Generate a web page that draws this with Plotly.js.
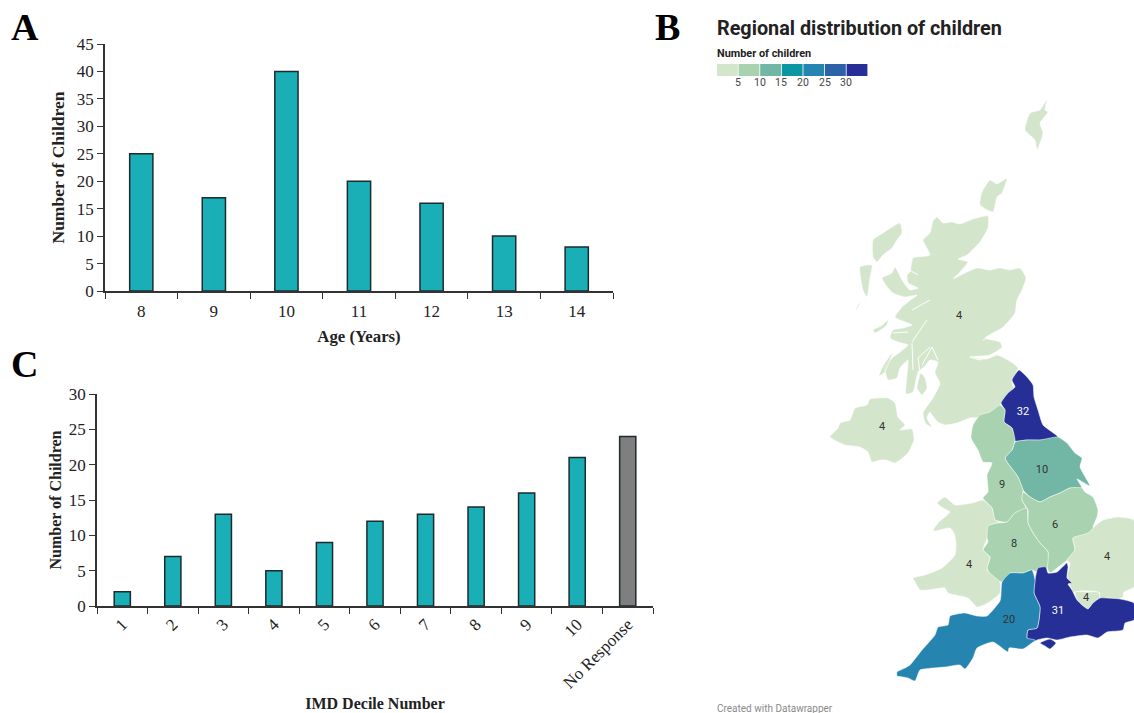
<!DOCTYPE html>
<html><head><meta charset="utf-8">
<script src="https://cdn.plot.ly/plotly-3.0.1.min.js"></script>
<style>html,body{margin:0;padding:0;background:#fff}#chart{width:1134px;height:713px}</style>
</head><body><div id="chart"></div>
<script>
// Panel A
const ageCategories = ['8','9','10','11','12','13','14'];
const ageCounts = [25,17,40,20,16,10,8];
// Panel C
const imdCategories = ['1','2','3','4','5','6','7','8','9','10','No Response'];
const imdCounts = [2,7,13,5,9,12,13,14,16,21,24];
// Panel B: children per region
const regionNames = ['Scotland','Northern Ireland','North East','Yorkshire and the Humber','North West','East Midlands','West Midlands','Wales','East of England','London','South East','South West'];
const regionValues = [4,4,32,10,9,6,8,4,4,4,31,20];
const labelX = [959,882,1023,1042,1002,1055,1014,969,1107,1086,1058,1009];
const labelY = [316,427,412,470,485,525,544,565,557,598,611,620];
const legendBreaks = [5,10,15,20,25,30];
const binPalette = ['#d3e6cc','#a8d2b0','#72b7a6','#0b97a2','#2585b0','#2b62a8','#252f96'];
// Outlines in map units
const outlineScotland = [[[937,217],[943,223],[952,222],[960,224],[973,219],[988,216],[988,228],[980,242],[967,255],[958,259],[968,262],[960,272],[953,279],[965,273],[977,268],[990,270],[1000,268],[1010,270],[1020,268],[1026,278],[1022,290],[1017,300],[1015,313],[1008,322],[1002,328],[985,338],[1000,342],[1002,347],[990,355],[970,357],[987,359],[997,355],[1008,360],[1018,368],[1012,382],[1015,392],[1008,398],[1000,405],[987,417],[970,418],[957,423],[945,425],[938,422],[932,415],[930,412],[927,418],[932,427],[926,424],[923,413],[933,398],[940,383],[935,373],[938,362],[930,360],[925,366],[918,372],[913,392],[906,394],[907,375],[908,360],[900,368],[897,378],[888,380],[885,368],[892,358],[900,352],[908,345],[898,342],[890,338],[893,330],[903,328],[912,325],[900,320],[895,317],[902,307],[908,302],[917,295],[905,297],[893,293],[888,288],[882,278],[892,273],[895,267],[902,280],[910,290],[918,288],[908,283],[907,275],[910,272],[913,258],[930,255],[923,240],[930,233],[933,221]],
 [[900,223],[902,233],[897,240],[892,248],[883,255],[877,262],[873,257],[873,240],[883,233]],
 [[860,267],[872,265],[870,278],[867,297],[863,290]],
 [[862,300],[857,307],[856,311],[860,304]],
 [[921,373],[925,378],[927,388],[922,395],[917,388]],
 [[873,330],[881,326],[888,320],[887,325],[875,333]],
 [[893,352],[890,360],[885,372],[879,376],[883,366]],
 [[990,180],[997,184],[1007,178],[1002,193],[997,197],[993,212],[980,205],[982,192]],
 [[1047,99],[1045,110],[1048,112],[1040,123],[1043,133],[1037,150],[1035,140],[1025,130],[1030,113],[1040,110]]];
const outlineNI = [[[830,437],[838,428],[840,423],[850,420],[855,408],[867,405],[870,399],[888,398],[895,403],[898,417],[905,425],[900,430],[912,429],[914,440],[908,453],[900,460],[895,463],[886,460],[880,460],[872,462],[868,452],[860,447],[845,445]]];
const outlineNE = [[[1019,370],[1027,377],[1033,385],[1034,397],[1038,410],[1043,425],[1058,437],[1043,440],[1027,440],[1015,441],[1012,428],[1004,422],[1005,410],[1001,403],[1008,393],[1015,387],[1012,380]]];
const outlineYorks = [[[1015,442],[1027,440],[1040,440],[1058,437],[1067,443],[1075,453],[1082,458],[1080,467],[1090,486],[1077,479],[1082,488],[1070,488],[1060,493],[1050,497],[1040,502],[1030,497],[1023,490],[1018,477],[1005,458],[1012,450]]];
const outlineNW = [[[1000,405],[1005,410],[1004,422],[1012,428],[1015,440],[1012,450],[1005,458],[1018,477],[1023,490],[1022,500],[1026,508],[1015,513],[1007,522],[995,520],[992,508],[983,498],[988,492],[987,475],[992,463],[983,462],[978,450],[971,438],[973,425],[980,415],[990,412]]];
const outlineEM = [[[1023,492],[1030,497],[1040,502],[1050,497],[1060,493],[1070,488],[1082,488],[1085,492],[1093,497],[1098,510],[1097,517],[1093,527],[1095,532],[1085,536],[1073,538],[1075,550],[1067,560],[1057,568],[1050,573],[1047,567],[1048,552],[1040,543],[1033,533],[1028,523],[1028,510],[1022,500]]];
const outlineWM = [[[1027,508],[1028,523],[1033,533],[1040,543],[1048,552],[1047,567],[1037,572],[1032,570],[1023,573],[1010,573],[1002,582],[992,577],[987,568],[990,557],[983,550],[988,542],[985,532],[988,525],[998,523],[1007,522],[1015,513]]];
const outlineWales = [[[937,503],[945,497],[955,505],[972,503],[983,500],[992,508],[995,520],[1000,522],[988,526],[987,538],[983,550],[990,557],[987,570],[1000,582],[1000,593],[988,603],[977,607],[968,598],[948,593],[945,588],[928,590],[920,590],[915,582],[913,578],[925,575],[942,568],[955,555],[956,543],[954,533],[950,528],[933,531],[938,523],[950,512],[943,508]]];
const outlineEast = [[[1073,538],[1088,533],[1095,526],[1103,520],[1118,517],[1134,520],[1134,587],[1124,592],[1123,597],[1116,600],[1107,598],[1097,600],[1100,593],[1092,591],[1080,591],[1073,592],[1070,585],[1067,577],[1070,563],[1067,560],[1075,550]]];
const outlineLondon = [[[1075,592],[1087,592],[1098,592],[1100,597],[1093,603],[1088,609],[1082,605],[1077,600]]];
const outlineSE = [[[1035,580],[1038,568],[1046,567],[1048,573],[1057,572],[1067,563],[1068,567],[1067,578],[1072,583],[1068,584],[1072,590],[1077,600],[1082,605],[1088,609],[1093,603],[1100,598],[1107,598],[1120,599],[1134,603],[1134,620],[1125,623],[1123,630],[1107,632],[1098,638],[1087,635],[1070,637],[1057,640],[1047,638],[1037,640],[1033,642],[1027,638],[1028,630],[1037,628],[1040,607],[1034,593]],
 [[1040,643],[1050,639],[1056,643],[1050,649],[1045,646]]];
const outlineSW = [[[1002,582],[1010,573],[1023,573],[1032,570],[1035,580],[1034,593],[1040,607],[1037,628],[1028,630],[1027,638],[1035,640],[1023,649],[1009,648],[1008,652],[993,642],[977,648],[973,658],[965,669],[960,665],[945,667],[933,668],[920,670],[915,681],[908,678],[903,677],[897,676],[897,672],[905,668],[910,665],[922,650],[935,635],[938,627],[948,625],[950,616],[965,613],[977,616],[987,616],[1000,601],[1001,595]]];
const regionOutlines = [outlineScotland,outlineNI,outlineNE,outlineYorks,outlineNW,outlineEM,outlineWM,outlineWales,outlineEast,outlineLondon,outlineSE,outlineSW];
const lochLines = [[[927,320],[912,342]],[[908,332],[893,333]],[[912,343],[913,370]],[[938,360],[932,347],[922,365]],[[930,347],[918,358],[920,372]],[[983,340],[992,335]],[[970,357],[980,360],[997,352]],[[930,300],[912,310]],[[918,275],[906,268]]];

const W = 1134, H = 713;
const serif = '"Liberation Serif", "Times New Roman", serif';
const sans = 'Roboto, sans-serif';
const teal = '#1aafb7', edge = '#1d2b2e', ink = '#222222';
const colorOf = v => binPalette[Math.min(Math.floor(v/5), binPalette.length-1)];

function closeRings(parts){
  const x=[],y=[];
  parts.forEach(p=>{ p.forEach(q=>{x.push(q[0]);y.push(q[1]);}); x.push(p[0][0]);y.push(p[0][1]); x.push(null);y.push(null); });
  return {x,y};
}
const traces = [
 {type:'bar',x:ageCategories,y:ageCounts,xaxis:'x',yaxis:'y',width:0.32,
  marker:{color:teal,line:{color:edge,width:1.5}},hoverinfo:'x+y'},
 {type:'bar',x:imdCategories,y:imdCounts,xaxis:'x2',yaxis:'y2',width:0.32,
  marker:{color:imdCategories.map(c=>c==='No Response'?'#7f7f7f':teal),line:{color:edge,width:1.5}},hoverinfo:'x+y'}
];
regionOutlines.forEach((parts,i)=>{
  const f = closeRings(parts);
  traces.push({type:'scatter',mode:'lines',x:f.x,y:f.y,xaxis:'x3',yaxis:'y3',fill:'toself',
    fillcolor:colorOf(regionValues[i]),line:{color:'#ffffff',width:0.5,shape:'spline',smoothing:0.5},name:regionNames[i],
    hoverinfo:'text',text:regionNames[i]+': '+regionValues[i]});
});
const lx=[],ly=[]; lochLines.forEach(l=>{l.forEach(p=>{lx.push(p[0]);ly.push(p[1]);});lx.push(null);ly.push(null);});
traces.push({type:'scatter',mode:'lines',x:lx,y:ly,xaxis:'x3',yaxis:'y3',line:{color:'#ffffff',width:1},hoverinfo:'skip'});
traces.push({type:'scatter',mode:'text',x:labelX,y:labelY,xaxis:'x3',yaxis:'y3',text:regionValues.map(String),
  textposition:'middle center',textfont:{family:sans,size:11,color:regionValues.map(v=>v>=25?'#ffffff':'#333333')},hoverinfo:'skip'});

const swatches = binPalette.map((c,i)=>({type:'rect',xref:'paper',yref:'paper',
  x0:(717+i*21.6)/W,x1:(717+(i+1)*21.6-0.8)/W,y0:1-76/H,y1:1-64/H,fillcolor:c,line:{width:0}}));
const note = (t,x,y,size,opts)=>Object.assign({text:t,xref:'paper',yref:'paper',x:x/W,y:1-y/H,showarrow:false,
  xanchor:'left',yanchor:'middle',font:{family:sans,size:size,color:ink}},opts||{});
const annotations = [
 note('<b>A</b>',9,27,38,{font:{family:serif,size:38,color:'#000'}}),
 note('<b>B</b>',653,27,38,{font:{family:serif,size:38,color:'#000'}}),
 note('<b>C</b>',9,364,38,{font:{family:serif,size:38,color:'#000'}}),
 note('<b>Regional distribution of children</b>',715,28,19.8),
 note('<b>Number of children</b>',715,53,10.9),
 note('Created with Datawrapper',715,708,10,{font:{family:sans,size:10,color:'#8a8a8a'}})
].concat(legendBreaks.map((b,i)=>note(String(b),717+(i+1)*21.6-0.4,83,10.5,{xanchor:'center',font:{family:sans,size:10.5,color:'#444'}})));

const valueAxis = (dom,max,anchor,titleFs,standoff)=>({domain:dom,range:[0,max],dtick:5,anchor:anchor,showgrid:false,zeroline:false,
  showline:true,linecolor:'#333',linewidth:1.5,ticks:'outside',ticklen:6,tickcolor:'#333',tickwidth:1.2,
  tickfont:{family:serif,size:17,color:ink},
  title:{text:'<b>Number of Children</b>',font:{family:serif,size:titleFs,color:ink},standoff:standoff}});
const catAxis = (dom,anchor,title,angle,standoff,labelGap,titleFs)=>({domain:dom,anchor:anchor,type:'category',tickson:'boundaries',
  showgrid:false,zeroline:false,showline:true,linecolor:'#333',linewidth:1.5,ticks:'outside',ticklen:6,tickcolor:'#333',tickwidth:1.2,
  tickangle:angle,ticklabelstandoff:labelGap,tickfont:{family:serif,size:17,color:ink},
  title:{text:'<b>'+title+'</b>',font:{family:serif,size:titleFs,color:ink},standoff:standoff}});

const layout = {
 width:W,height:H,margin:{l:0,r:0,t:0,b:0},paper_bgcolor:'#fff',plot_bgcolor:'rgba(0,0,0,0)',showlegend:false,bargap:0.68,
 xaxis:catAxis([105/W,613/W],'y','Age (Years)',0,10,4,16.8),
 yaxis:valueAxis([1-291/H,1-44/H],45,'x',17.5,8),
 xaxis2:catAxis([97/W,653/W],'y2','IMD Decile Number',-45,7,0,16),
 yaxis2:valueAxis([1-606/H,1-394/H],30,'x2',16,3),
 xaxis3:{domain:[0,1],range:[0,W],visible:false,anchor:'y3',fixedrange:true},
 yaxis3:{domain:[0,1],range:[H,0],visible:false,anchor:'x3',fixedrange:true},
 shapes:swatches,annotations:annotations
};
Plotly.newPlot('chart',traces,layout,{displayModeBar:false,responsive:false});
</script></body></html>
